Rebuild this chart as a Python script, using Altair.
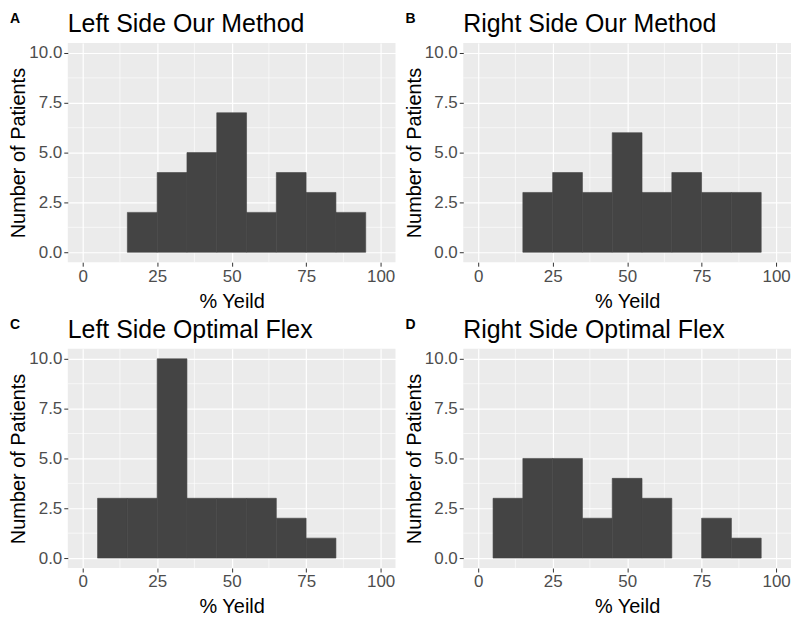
import altair as alt
import pandas as pd

# ---- data ----
bin_start = [5, 15, 25, 35, 45, 55, 65, 75, 85]
bin_width = 10
left_our = [0, 2, 4, 5, 7, 2, 4, 3, 2]
right_our = [0, 3, 4, 3, 6, 3, 4, 3, 3]
left_opt = [3, 3, 10, 3, 3, 3, 2, 1, 0]
right_opt = [3, 5, 5, 2, 4, 3, 0, 2, 1]

titles = ["Left Side Our Method", "Right Side Our Method",
          "Left Side Optimal Flex", "Right Side Optimal Flex"]
letters = ["A", "B", "C", "D"]
series = [left_our, right_our, left_opt, right_opt]

x_ticks = [0, 25, 50, 75, 100]
y_ticks = [0, 2.5, 5, 7.5, 10]
x_minor = [12.5, 37.5, 62.5, 87.5]
y_minor = [1.25, 3.75, 6.25, 8.75]
x_domain = [-5, 105]
y_domain = [-0.5, 10.5]

FONT = "Liberation Sans, Arial, sans-serif"
W, H = 329, 220
BAR = "#444444"


def panel(counts, title, letter):
    df = pd.DataFrame({
        "start": bin_start,
        "end": [s + bin_width for s in bin_start],
        "count": counts,
    })
    df = df[df["count"] > 0]
    xs = alt.Scale(domain=x_domain, nice=False, zero=False)
    ys = alt.Scale(domain=y_domain, nice=False, zero=False)
    xax = alt.Axis(values=x_ticks, format="d", title="% Yeild")
    yax = alt.Axis(values=y_ticks, format=".1f", title="Number of Patients")

    xminor = alt.Chart(pd.DataFrame({"xm": x_minor})).mark_rule(
        color="white", strokeWidth=0.6
    ).encode(x=alt.X("xm:Q", scale=xs, axis=xax))
    yminor = alt.Chart(pd.DataFrame({"ym": y_minor})).mark_rule(
        color="white", strokeWidth=0.6
    ).encode(y=alt.Y("ym:Q", scale=ys, axis=yax))

    bars = alt.Chart(df).mark_rect(
        color=BAR, stroke=BAR, strokeWidth=0.6
    ).encode(
        x=alt.X("start:Q", scale=xs, axis=xax),
        x2="end:Q",
        y=alt.Y("count:Q", scale=ys, axis=yax),
        y2=alt.datum(0),
    )

    lab = alt.Chart(pd.DataFrame({"t": [letter]})).mark_text(
        font=FONT, fontSize=14, fontWeight="bold", align="left",
        baseline="alphabetic", color="black"
    ).encode(x=alt.value(-58), y=alt.value(-20), text="t:N")

    ttl = alt.Chart(pd.DataFrame({"t": [title]})).mark_text(
        font=FONT, fontSize=25, fontWeight="normal", align="left",
        baseline="alphabetic", color="black"
    ).encode(x=alt.value(0), y=alt.value(-11), text="t:N")

    return alt.layer(xminor, yminor, bars, lab, ttl).properties(
        width=W, height=H
    )


charts = [panel(c, t, l) for c, t, l in zip(series, titles, letters)]

chart = alt.concat(
    *charts, columns=2, spacing={"row": 87, "column": 68}, bounds="flush"
).configure(
    font=FONT, background="white",
    padding={"top": 3, "left": 0, "right": 0, "bottom": 0}
).configure_view(
    fill="#EBEBEB", strokeWidth=0
).configure_axis(
    grid=True, gridColor="white", gridWidth=1.2,
    domain=False, tickColor="#333333", tickSize=4, tickWidth=1,
    labelFont=FONT, labelFontSize=17, labelColor="#4D4D4D", labelPadding=2,
    titleFont=FONT, titleFontSize=20, titleFontWeight="normal",
    titleColor="black",
).configure_axisX(
    titlePadding=7
).configure_axisY(
    titlePadding=0
)

chart.save("out.html", embed_options={"renderer": "svg", "actions": False})
